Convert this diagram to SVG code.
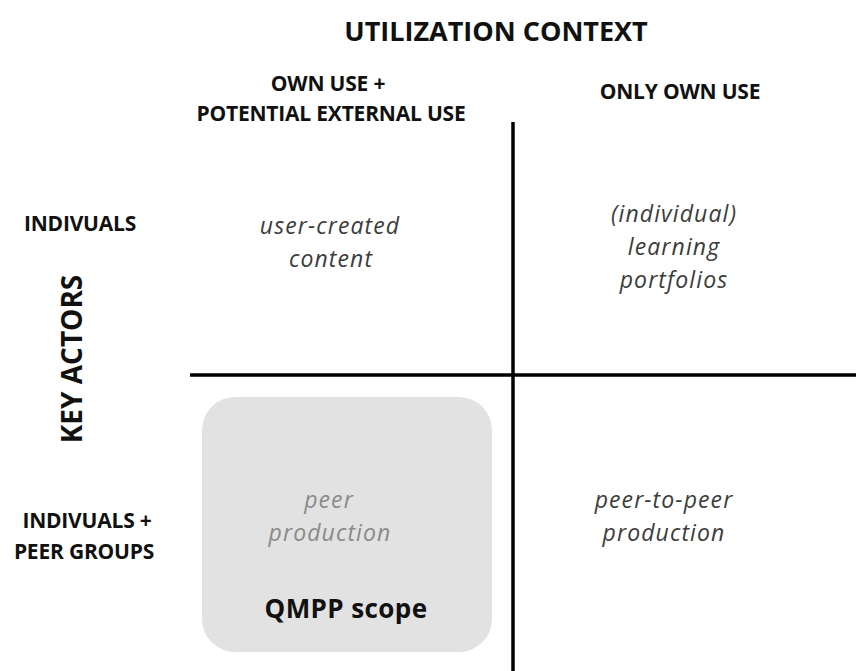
<svg xmlns="http://www.w3.org/2000/svg" width="856" height="671" viewBox="0 0 856 671">
<style>
.hdr{font-family:"Open Sans","Liberation Sans",sans-serif;font-weight:bold;fill:#111;text-anchor:middle}
.sub{font-size:21px;letter-spacing:-0.2px}
.cell{font-family:"Open Sans","Liberation Sans",sans-serif;font-style:italic;fill:#3c3c3c;text-anchor:middle;font-size:23px;letter-spacing:1.1px}
.faint{fill:#8a8a8a}
.line{stroke:#000;stroke-width:3.5;fill:none}
</style>
<rect width="856" height="671" fill="#fff"/>
<g id="scope">
<rect x="202" y="397" width="290" height="255" rx="33" fill="#e2e2e2"/>
<text class="hdr" x="346" y="618" font-size="26" letter-spacing="0.4">QMPP scope</text>
</g>
<g id="connectors">
<line class="line" x1="513" y1="122" x2="513" y2="671"/>
<line class="line" x1="190" y1="375" x2="856" y2="375"/>
</g>
<g id="title"><text class="hdr" x="496" y="41" font-size="27">UTILIZATION CONTEXT</text></g>
<g id="col1"><text class="hdr sub" x="328" y="91">OWN USE +</text><text class="hdr sub" x="331" y="121">POTENTIAL EXTERNAL USE</text></g>
<g id="col2"><text class="hdr sub" x="680" y="99">ONLY OWN USE</text></g>
<g id="row1"><text class="hdr sub" x="80" y="231">INDIVUALS</text></g>
<g id="axis"><text class="hdr" x="0" y="0" font-size="28" transform="translate(82 359) rotate(-90)">KEY ACTORS</text></g>
<g id="row2"><text class="hdr sub" x="87" y="528">INDIVUALS +</text><text class="hdr sub" x="84" y="559">PEER GROUPS</text></g>
<g id="ucc"><text class="cell" x="330" y="234">user-created</text><text class="cell" x="331" y="267">content</text></g>
<g id="ilp"><text class="cell" x="674" y="222">(individual)</text><text class="cell" x="674" y="255">learning</text><text class="cell" x="674" y="288">portfolios</text></g>
<g id="pp"><text class="cell faint" x="329" y="508">peer</text><text class="cell faint" x="330" y="541">production</text></g>
<g id="p2p"><text class="cell" x="664" y="508">peer-to-peer</text><text class="cell" x="664" y="541">production</text></g>
</svg>
